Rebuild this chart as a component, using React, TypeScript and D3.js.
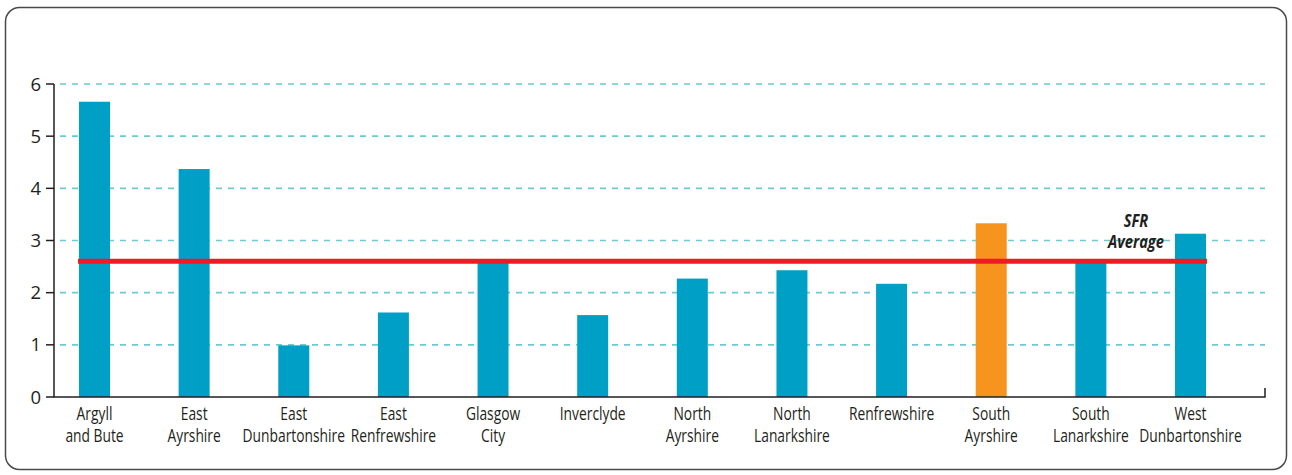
import { useEffect, useRef } from 'react';
import { select, scaleLinear, scalePoint } from 'd3';

const categories = [
  ['Argyll', 'and Bute'],
  ['East', 'Ayrshire'],
  ['East', 'Dunbartonshire'],
  ['East', 'Renfrewshire'],
  ['Glasgow', 'City'],
  ['Inverclyde'],
  ['North', 'Ayrshire'],
  ['North', 'Lanarkshire'],
  ['Renfrewshire'],
  ['South', 'Ayrshire'],
  ['South', 'Lanarkshire'],
  ['West', 'Dunbartonshire'],
];
const values = [5.66, 4.37, 0.99, 1.62, 2.62, 1.57, 2.27, 2.43, 2.17, 3.33, 2.58, 3.13];
const highlighted = ['South Ayrshire'];
const yTicks = [0, 1, 2, 3, 4, 5, 6];
const sfrAverage = 2.6;
const avgLabel = ['SFR', 'Average'];

const labelFont = '"Open Sans", "Noto Sans", sans-serif';

export default function App() {
  const svgRef = useRef<SVGSVGElement>(null);

  useEffect(() => {
    if (!svgRef.current) return;
    const svg = select(svgRef.current);
    svg.selectAll('*').remove();

    const width = 1292;
    const height = 475;
    const axisX = 54;
    const axisRight = 1265;

    const names = categories.map((c) => c.join(' '));
    const x = scalePoint<string>().domain(names).range([94.5, 1190.5]);
    const y = scaleLinear().domain([0, 6]).range([397, 84]);
    const barW = 31;

    // frame
    svg.append('rect')
      .attr('x', 5.5).attr('y', 7.5)
      .attr('width', 1281).attr('height', 462)
      .attr('rx', 14)
      .attr('fill', 'white')
      .attr('stroke', '#4a4a4a')
      .attr('stroke-width', 1.5);

    // gridlines
    svg.append('g')
      .selectAll('line')
      .data(yTicks.filter((t) => t > 0))
      .enter()
      .append('line')
      .attr('x1', 60).attr('x2', axisRight)
      .attr('y1', (d) => y(d)).attr('y2', (d) => y(d))
      .attr('stroke', '#6ccad2')
      .attr('stroke-width', 1.6)
      .attr('stroke-dasharray', '6,6');

    // bars
    svg.append('g')
      .selectAll('rect')
      .data(values)
      .enter()
      .append('rect')
      .attr('x', (_, i) => (x(names[i]) || 0) - barW / 2)
      .attr('y', (d) => y(d))
      .attr('width', barW)
      .attr('height', (d) => y(0) - y(d))
      .attr('fill', (_, i) => (highlighted.includes(names[i]) ? '#f7941d' : '#00a0c6'));

    // average line
    svg.append('line')
      .attr('x1', 78).attr('x2', 1207)
      .attr('y1', y(sfrAverage)).attr('y2', y(sfrAverage))
      .attr('stroke', '#ed1c24')
      .attr('stroke-width', 5);

    svg.append('g')
      .selectAll('text')
      .data(avgLabel)
      .enter()
      .append('text')
      .attr('transform', (_, j) => `translate(1136,${227 + j * 21}) scale(0.84,1)`)
      .attr('text-anchor', 'middle')
      .attr('font-family', labelFont)
      .attr('font-weight', 'bold')
      .attr('font-style', 'italic')
      .attr('font-size', 17.5)
      .attr('fill', '#231f20')
      .text((d) => d);

    // axes
    const axis = svg.append('g').attr('stroke', '#231f20').attr('stroke-width', 1.5).attr('fill', 'none');
    axis.append('path')
      .attr('d', `M${axisX},${y(6)}V${y(0)}H${axisRight}V${y(0) - 9}`);
    axis.selectAll('line.tick')
      .data(yTicks)
      .enter()
      .append('line')
      .attr('class', 'tick')
      .attr('x1', axisX - 8).attr('x2', axisX)
      .attr('y1', (d) => y(d)).attr('y2', (d) => y(d));

    svg.append('g')
      .selectAll('text')
      .data(yTicks)
      .enter()
      .append('text')
      .attr('x', 41)
      .attr('y', (d) => y(d))
      .attr('dy', '0.36em')
      .attr('text-anchor', 'end')
      .attr('font-family', labelFont)
      .attr('font-size', 18.5)
      .attr('fill', '#231f20')
      .text((d) => d);

    // category labels
    const cat = svg.append('g');
    categories.forEach((lines, i) => {
      const cx = x(names[i]) || 0;
      lines.forEach((line, j) => {
        cat.append('text')
          .attr('transform', `translate(${cx},${420 + j * 22}) scale(0.79,1)`)
          .attr('text-anchor', 'middle')
          .attr('font-family', labelFont)
          .attr('font-size', 17.5)
          .attr('fill', '#231f20')
          .text(line);
      });
    });

    svg.attr('width', width).attr('height', height);
  }, []);

  return (
    <div style={{ position: 'absolute', left: 0, top: 0 }}>
      <svg ref={svgRef} style={{ display: 'block' }} />
    </div>
  );
}
